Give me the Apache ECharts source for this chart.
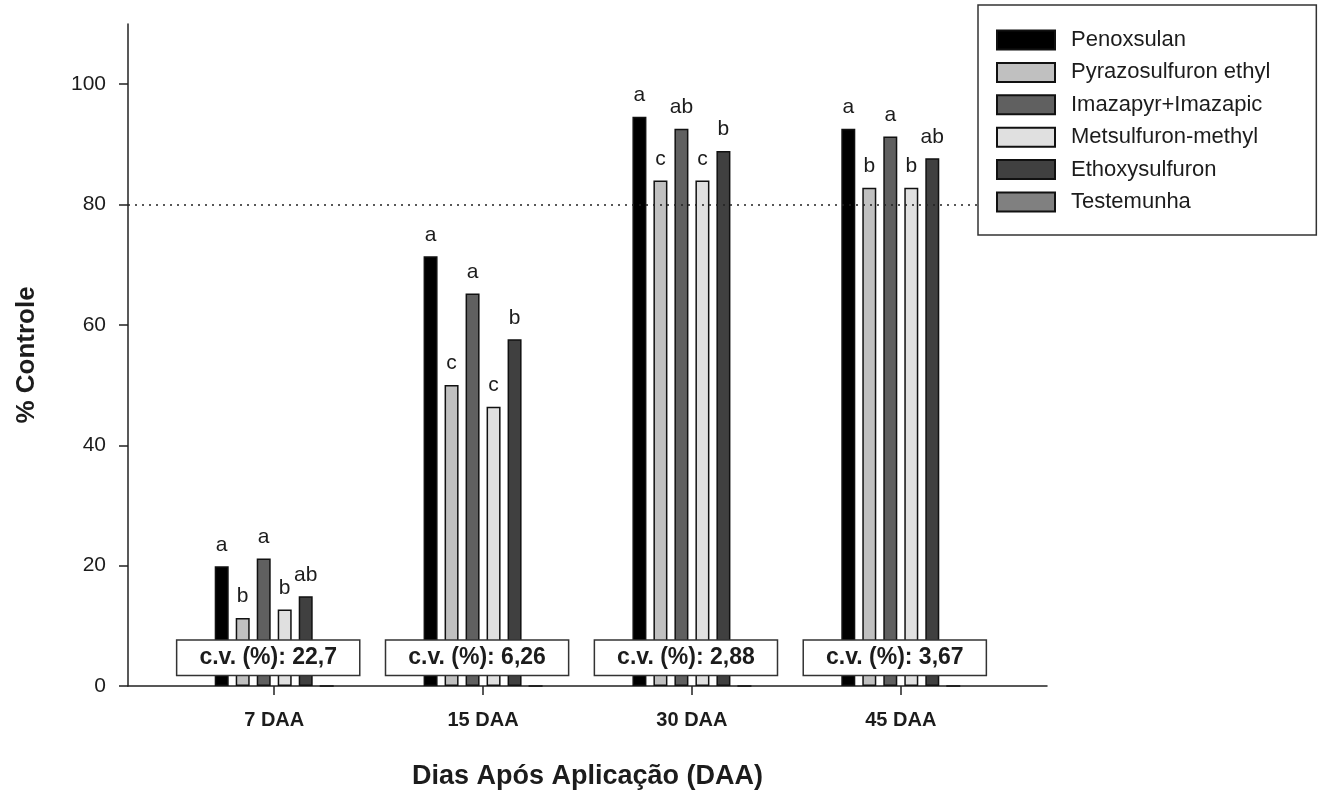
<!DOCTYPE html>
<html>
<head>
<meta charset="utf-8">
<script src="https://cdn.jsdelivr.net/npm/echarts@6/dist/echarts.min.js"></script>
<style>html,body{margin:0;padding:0;background:#fff;}#c{width:1324px;height:796px;}</style>
</head>
<body>
<div id="c"></div>
<script>
// ---- data ----
const categories = ['7 DAA', '15 DAA', '30 DAA', '45 DAA'];
const catPos = [1, 2, 3, 4];
const yTicks = [0, 20, 40, 60, 80, 100];
const seriesNames = ['Penoxsulan', 'Pyrazosulfuron ethyl', 'Imazapyr+Imazapic', 'Metsulfuron-methyl', 'Ethoxysulfuron', 'Testemunha'];
const penoxsulan   = [19.9, 71.4, 94.6, 92.6];
const pyrazosulf   = [11.3, 50.0, 84.0, 82.8];
const imazapyr     = [21.2, 65.2, 92.6, 91.3];
const metsulfuron  = [12.7, 46.4, 84.0, 82.8];
const ethoxysulf   = [14.9, 57.6, 88.9, 87.7];
const testemunha   = [0, 0, 0, 0];
const lettersPen = ['a', 'a', 'a', 'a'];
const lettersPyr = ['b', 'c', 'c', 'b'];
const lettersIma = ['a', 'a', 'ab', 'a'];
const lettersMet = ['b', 'c', 'c', 'b'];
const lettersEth = ['ab', 'b', 'b', 'ab'];
const lettersTes = ['', '', '', ''];
const cvLabels = ['c.v. (%): 22,7', 'c.v. (%): 6,26', 'c.v. (%): 2,88', 'c.v. (%): 3,67'];
const cvY = 4.7;
const refLine = 80;

// ---- styling ----
const colors = ['#000000', '#c0c0c0', '#606060', '#e0e0e0', '#404040', '#808080'];
const values = [penoxsulan, pyrazosulf, imazapyr, metsulfuron, ethoxysulf, testemunha];
const letters = [lettersPen, lettersPyr, lettersIma, lettersMet, lettersEth, lettersTes];
const FONT = 'Liberation Sans, Arial, Helvetica, sans-serif';
const TXT = '#1c1c1c';

const series = seriesNames.map((name, i) => ({
  name: name,
  type: 'bar',
  barWidth: 14,
  barGap: '50%',
  data: catPos.map((x, j) => [x, values[i][j]]),
  itemStyle: { color: colors[i], borderColor: '#111', borderWidth: 1.5 },
  label: {
    show: true, position: 'top', distance: 11,
    fontFamily: FONT, fontSize: 21, color: TXT,
    formatter: p => letters[i][p.dataIndex]
  },
  emphasis: { disabled: true },
  markLine: i === 0 ? {
    silent: true, symbol: 'none', label: { show: false },
    lineStyle: { type: [2, 5], color: '#222', width: 1.5 },
    data: [{ yAxis: refLine }]
  } : undefined
}));

series.push({
  name: 'cv',
  type: 'scatter',
  symbolSize: 0,
  z: 5,
  itemStyle: { opacity: 1 },
  data: catPos.map((x) => [x, cvY]),
  label: {
    show: true, position: 'inside', offset: [-6, 0],
    formatter: p => cvLabels[p.dataIndex],
    fontFamily: FONT, fontSize: 23, fontWeight: 'bold', color: TXT,
    backgroundColor: '#fff', borderColor: '#333', borderWidth: 1.5,
    padding: [6, 22, 5, 22]
  },
  emphasis: { disabled: true }
});

const chart = echarts.init(document.getElementById('c'), null, { renderer: 'canvas' });
chart.setOption({
  animation: false,
  backgroundColor: '#fff',
  grid: { left: 128, right: 277, top: 24, bottom: 110 },
  legend: {
    data: seriesNames,
    orient: 'vertical',
    left: 978, top: 5,
    padding: [24, 46, 22, 18],
    itemWidth: 58, itemHeight: 19, itemGap: 10.4,
    backgroundColor: '#fff', borderColor: '#333', borderWidth: 1.5, borderRadius: 0,
    icon: 'rect',
    textStyle: { fontFamily: FONT, fontSize: 22, color: TXT, padding: [0, 0, 0, 11] },
    selectedMode: false,
    z: 10
  },
  xAxis: {
    type: 'value', min: 0.3, max: 4.7,
    splitLine: { show: false },
    axisLine: { show: true, lineStyle: { color: '#222', width: 1.5 } },
    axisTick: { show: true, customValues: catPos, length: 9, lineStyle: { color: '#222', width: 1.5 } },
    axisLabel: {
      customValues: catPos, margin: 24,
      formatter: v => categories[catPos.indexOf(v)] || '',
      fontFamily: FONT, fontSize: 20, fontWeight: 'bold', color: TXT
    },
    name: 'Dias Após Aplicação (DAA)', nameLocation: 'middle', nameGap: 77,
    nameTextStyle: { fontFamily: FONT, fontSize: 27, fontWeight: 'bold', color: TXT }
  },
  yAxis: {
    type: 'value', min: 0, max: 110,
    splitLine: { show: false },
    axisLine: { show: true, lineStyle: { color: '#222', width: 1.5 } },
    axisTick: { show: true, customValues: yTicks, length: 9, lineStyle: { color: '#222', width: 1.5 } },
    axisLabel: {
      customValues: yTicks, margin: 22,
      fontFamily: FONT, fontSize: 21, color: TXT
    },
    name: '% Controle', nameLocation: 'middle', nameGap: 88,
    nameTextStyle: { fontFamily: FONT, fontSize: 26, fontWeight: 'bold', color: TXT }
  },
  series: series
});
</script>
</body>
</html>
